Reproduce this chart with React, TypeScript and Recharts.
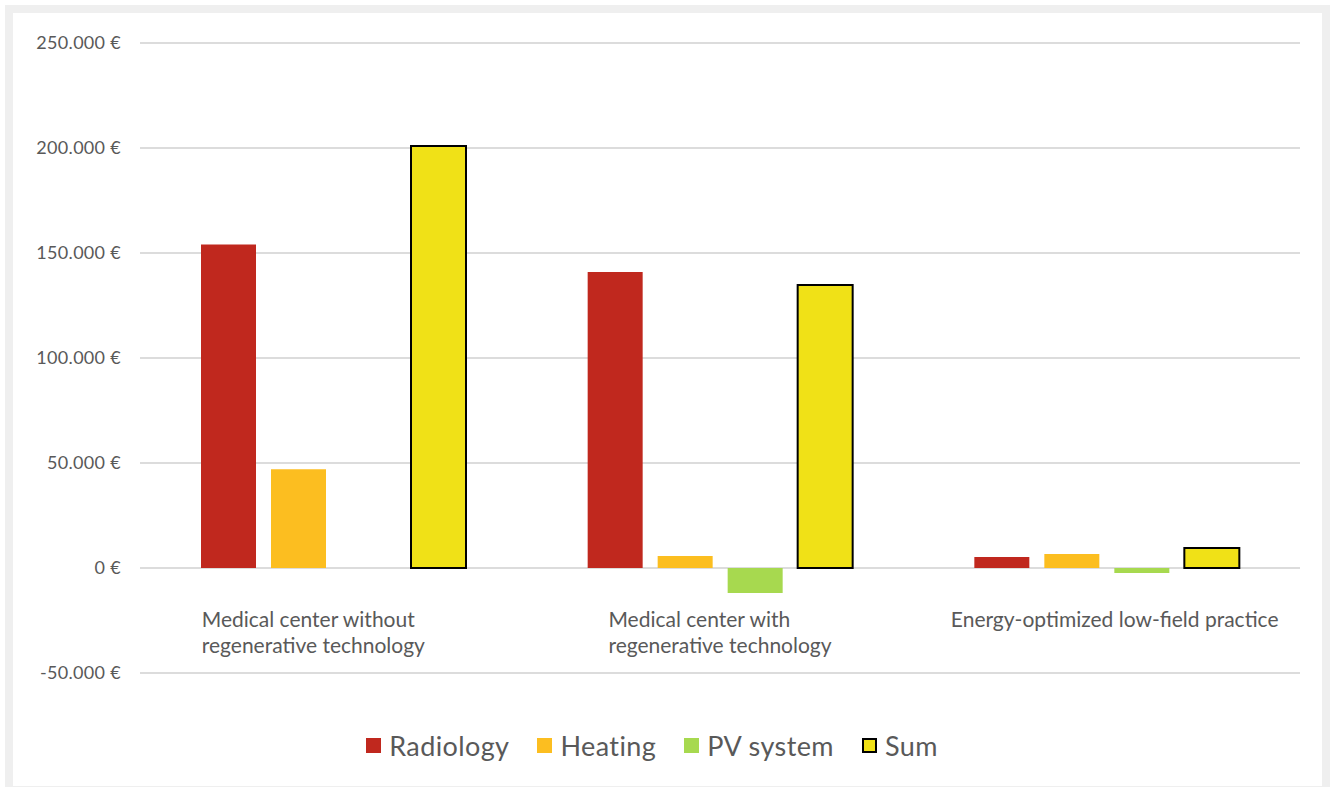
import React from "react"
import { BarChart, Bar, XAxis, YAxis, CartesianGrid } from "recharts"

const categories = [
  "Medical center without\nregenerative technology",
  "Medical center with\nregenerative technology",
  "Energy-optimized low-field practice",
]
const radiology = [154000, 141000, 5200]
const heating = [47000, 5700, 6700]
const pvSystem = [0, -11900, -2400]
const sum = [201000, 134800, 9500]
const yTicks = [-50000, 0, 50000, 100000, 150000, 200000, 250000]

const series = [
  { key: "radiology", name: "Radiology", color: "#c0281e", stroke: "none" },
  { key: "heating", name: "Heating", color: "#fcbe20", stroke: "none" },
  { key: "pv", name: "PV system", color: "#a7d94f", stroke: "none" },
  { key: "sum", name: "Sum", color: "#f0e117", stroke: "#000" },
]

const data = categories.map((category, i) => ({
  category,
  radiology: radiology[i],
  heating: heating[i],
  pv: pvSystem[i],
  sum: sum[i],
}))

const FONT = "Lato, 'Open Sans', sans-serif"
const TEXT = "#595959"
// small nudges so the label blocks sit where the original put them
const labelShift = [-20, 0, 8]

const formatEuro = (v: number) => {
  const s = Math.abs(v).toString().replace(/\B(?=(\d{3})+(?!\d))/g, ".")
  return (v < 0 ? "-" : "") + s + " €"
}

let canvas: HTMLCanvasElement | null = null
function measure(text: string, font: string) {
  if (!canvas) canvas = document.createElement("canvas")
  const ctx = canvas.getContext("2d")
  if (!ctx) return text.length * 9
  ctx.font = font
  return ctx.measureText(text).width
}

function CategoryTick(props: any) {
  const { x, y, payload, index } = props
  const lines: string[] = String(payload.value).split("\n")
  const w = Math.max(...lines.map((l) => measure(l, `21px Lato`)))
  const startX = x - w / 2 + (labelShift[index] ?? 0)
  return (
    <text x={startX} y={y - 46} fill={TEXT} fontSize={21} fontFamily={FONT} textAnchor="start">
      {lines.map((l, i) => (
        <tspan key={i} x={startX} dy={i === 0 ? 0 : 26}>
          {l}
        </tspan>
      ))}
    </text>
  )
}

export default function App() {
  return (
    <div style={{ position: "absolute", left: 0, top: 0, width: 1330, height: 787, background: "#fff", overflow: "hidden" }}>
      <div
        style={{
          position: "absolute",
          left: 5,
          top: 5,
          width: 1325,
          height: 789,
          border: "8px solid #efefef",
          boxSizing: "border-box",
        }}
      />
      <div style={{ position: "absolute", left: 0, top: 0 }}>
        <BarChart
          width={1330}
          height={787}
          data={data}
          margin={{ top: 43, right: 30, bottom: 84, left: 0 }}
          barSize={55}
          barGap={15}
        >
          <CartesianGrid vertical={false} stroke="#dcdcdc" strokeWidth={2} />
          <XAxis
            dataKey="category"
            height={30}
            axisLine={false}
            tickLine={false}
            tickSize={0}
            tickMargin={0}
            interval={0}
            tick={<CategoryTick />}
          />
          <YAxis
            width={140}
            domain={[-50000, 250000]}
            ticks={yTicks}
            axisLine={false}
            tickLine={false}
            tickSize={0}
            tickMargin={19}
            tickFormatter={formatEuro}
            tick={{ fill: TEXT, fontSize: 18, fontFamily: FONT, letterSpacing: 0.3 }}
          />
          {series.map((s) => (
            <Bar
              key={s.key}
              dataKey={s.key}
              name={s.name}
              fill={s.color}
              stroke={s.stroke}
              strokeWidth={s.stroke === "none" ? 0 : 2}
              isAnimationActive={false}
            />
          ))}
        </BarChart>
      </div>
      <div
        style={{
          position: "absolute",
          left: 0,
          top: 729,
          width: 1304,
          display: "flex",
          justifyContent: "center",
          alignItems: "center",
          fontFamily: FONT,
          fontSize: 27,
          letterSpacing: 0.4,
          color: TEXT,
          gap: 28,
        }}
      >
        {series.map((s) => (
          <div key={s.key} style={{ display: "flex", alignItems: "center", gap: 8 }}>
            <span
              style={{
                display: "inline-block",
                width: 15,
                height: 15,
                background: s.color,
                border: s.stroke === "none" ? "none" : "2px solid #000",
                boxSizing: "border-box",
              }}
            />
            <span>{s.name}</span>
          </div>
        ))}
      </div>
    </div>
  )
}
